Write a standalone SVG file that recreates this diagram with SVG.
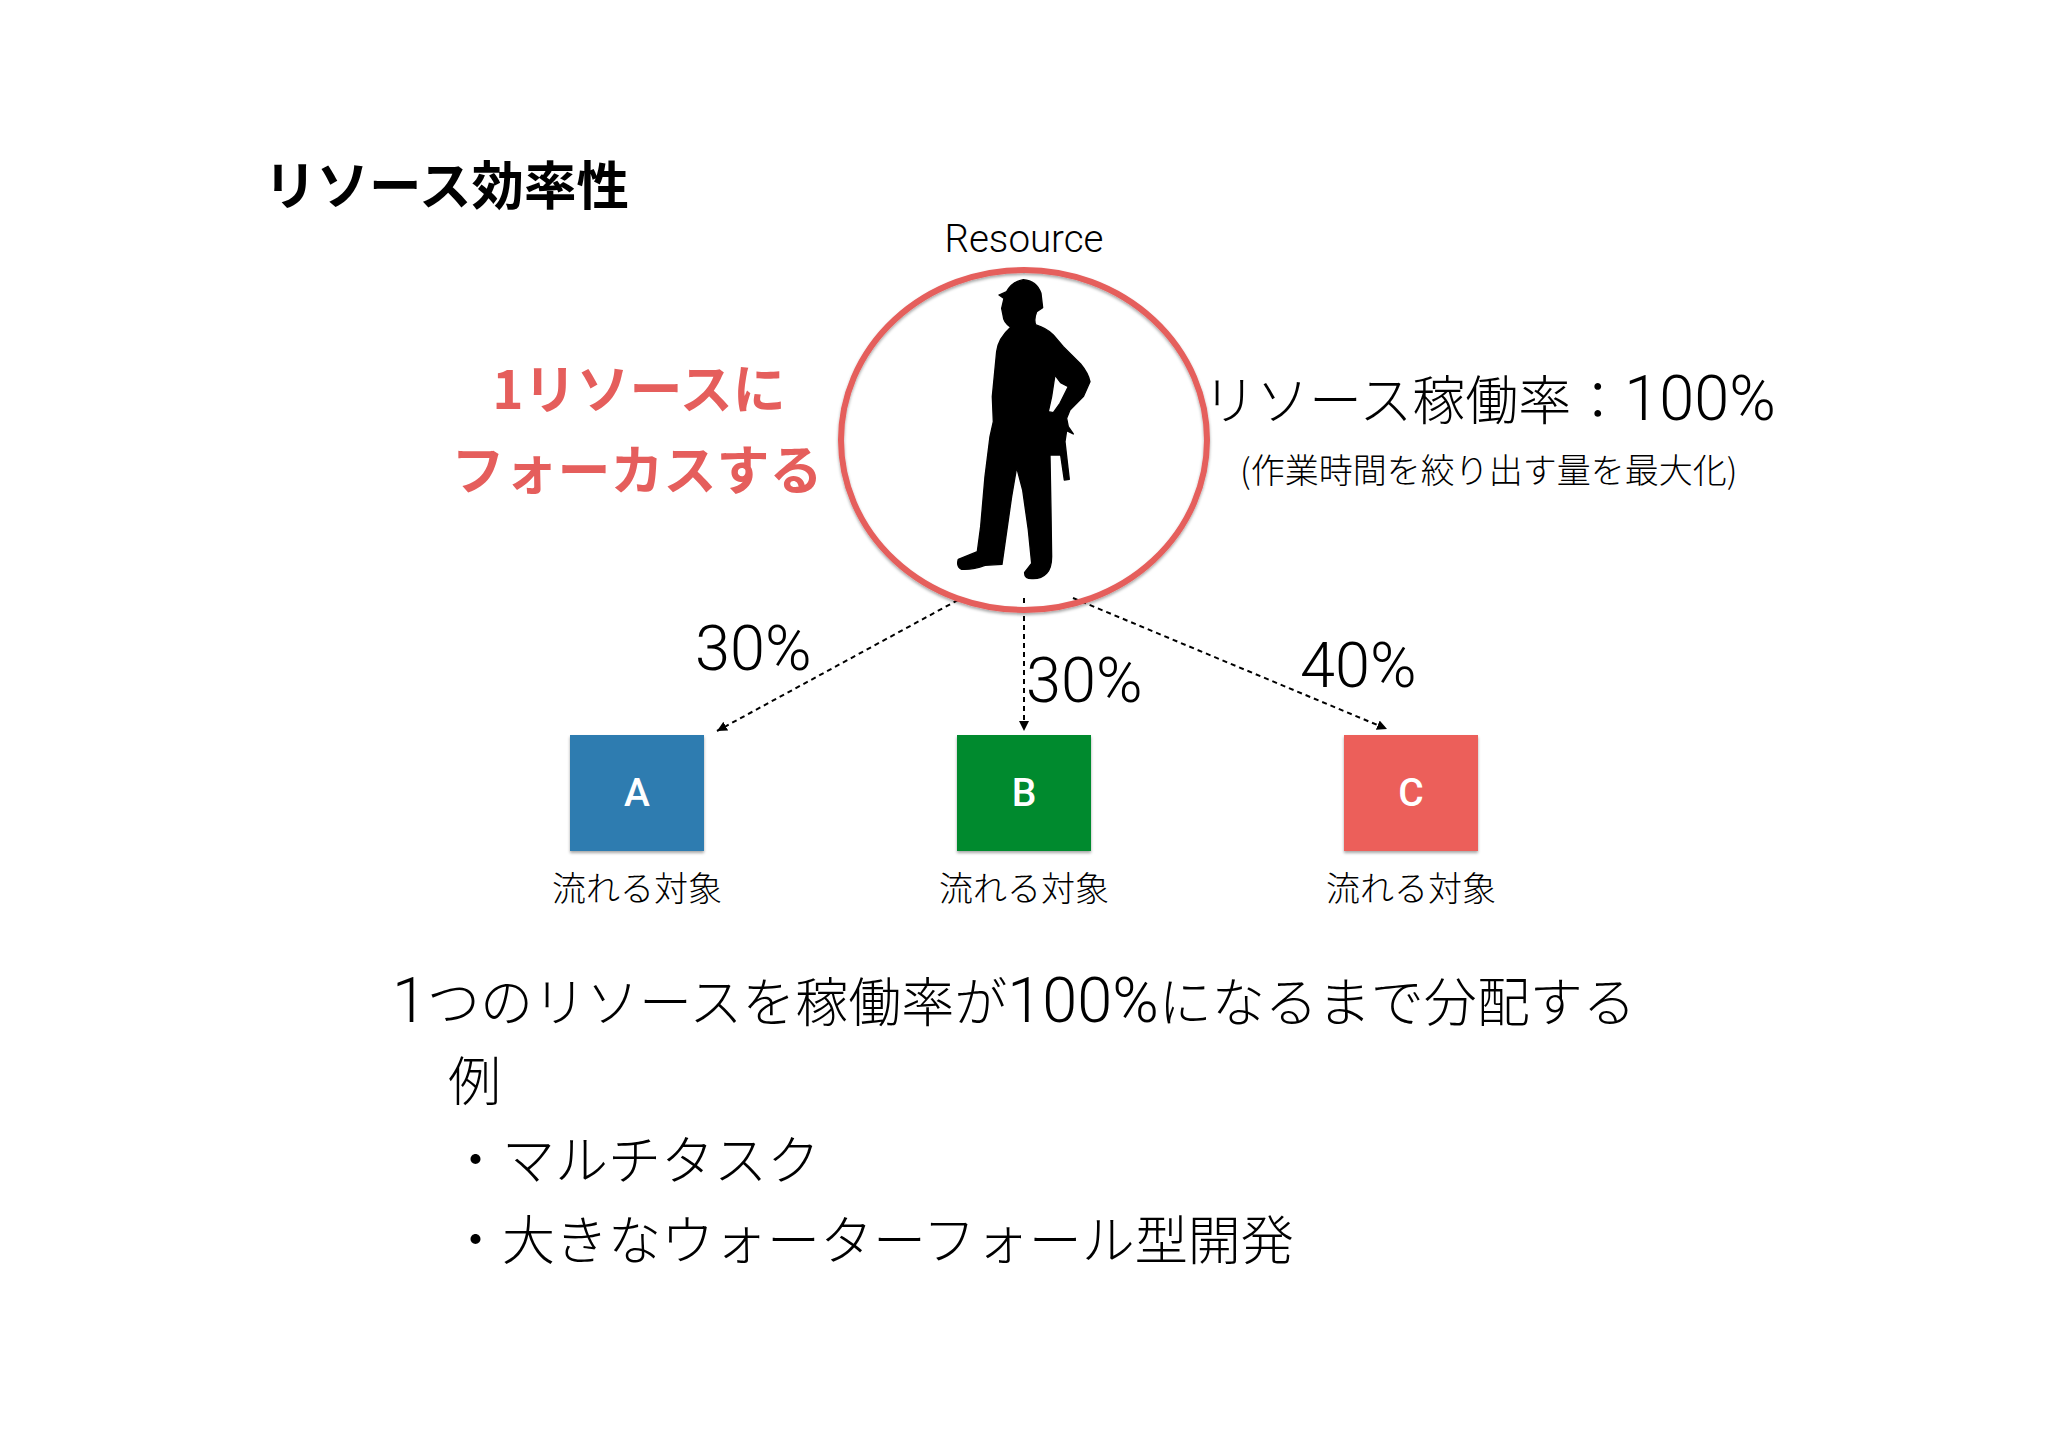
<svg xmlns="http://www.w3.org/2000/svg" width="2048" height="1447" viewBox="0 0 2048 1447">
<style>
text{font-family:"Noto Sans CJK JP","Noto Sans",sans-serif;fill:#000;font-weight:300}
.lat{font-family:Roboto,"Liberation Sans",sans-serif;font-weight:300}
.b{font-weight:700}
.red{fill:#e55e5c;font-weight:700}
.m{text-anchor:middle}
.lbl{font-size:34px;text-anchor:middle}
.pct{font-size:63px}
.big{font-size:53px}
.num{font-family:Roboto,"Liberation Sans",sans-serif;font-weight:300;font-size:63px}
.box{font-family:Roboto,"Liberation Sans",sans-serif;font-size:39px;fill:#fff;text-anchor:middle;font-weight:500}
.conn{fill:none;stroke:#000;stroke-width:2;stroke-dasharray:5 4;marker-end:url(#ah)}
</style>
<defs>
<marker id="ah" markerUnits="userSpaceOnUse" markerWidth="12" markerHeight="12" refX="10" refY="5" orient="auto"><path d="M0 0L10 5L0 10Z" fill="#000"/></marker>
<filter id="sh" x="-10%" y="-10%" width="120%" height="120%"><feDropShadow dx="0" dy="2" stdDeviation="1.5" flood-color="#000" flood-opacity=".35"/></filter>
</defs>
<rect width="2048" height="1447" fill="#fff"/>
<text id="title" class="b" x="264" y="205" font-size="52.5">リソース効率性</text>
<g id="connectors">
<path class="conn" d="M958 600L717 731"/>
<path class="conn" d="M1024 598V731"/>
<path class="conn" d="M1073 598L1387 729"/>
</g>
<g id="resource">
<text class="lat m" x="1024" y="252" font-size="38.5">Resource</text>
<ellipse cx="1024" cy="440" rx="183" ry="170" fill="none" stroke="#e55e5c" stroke-width="6" filter="url(#sh)"/>
<path transform="translate(820 210) scale(.3333)" fill-rule="evenodd" stroke="#000" stroke-width="4" stroke-linejoin="round" d="M610 209Q650 212 663 250L668 293L650 305Q640 330 648 345Q680 355 700 375L730 410L782 462Q805 490 810 515L790 560L750 600L740 625L745 650L760 672L740 662L735 695L748 808L733 810L722 735L690 735L693 900L695 1040Q695 1075 680 1090Q665 1106 640 1106Q612 1108 614 1087L635 1060L625 960L608 840L590 772L575 860L555 1000L546 1063L495 1066Q460 1080 425 1078Q408 1070 415 1048L472 1025L482 950L495 800L510 680L520 635L517 560L530 425Q535 385 572 352Q550 335 550 320L545 295L552 265L537 255L560 245Q575 215 610 209ZM705 495L722 518L745 530L720 580L700 608L685 605L695 560Z"/>
</g>
<g id="focus"><text class="red m" x="639" y="409" font-size="53">1リソースに</text>
<text class="red m" x="637" y="490" font-size="53">フォーカスする</text></g>
<g id="rate"><text x="1203" y="420" font-size="53">リソース稼働率：<tspan class="num">100%</tspan></text>
<text x="1240" y="483" font-size="34">(作業時間を絞り出す量を最大化)</text></g>
<text class="lat pct" x="695" y="670">30%</text>
<text class="lat pct" x="1026" y="702">30%</text>
<text class="lat pct" x="1300" y="687">40%</text>
<g id="a"><rect x="570" y="735" width="134" height="116" fill="#2e7bb0" filter="url(#sh)"/><text class="box" x="637" y="806">A</text><text class="lbl" x="637" y="901">流れる対象</text></g>
<g id="b"><rect x="957" y="735" width="134" height="116" fill="#058a2e" filter="url(#sh)"/><text class="box" x="1024" y="806">B</text><text class="lbl" x="1024" y="901">流れる対象</text></g>
<g id="c"><rect x="1344" y="735" width="134" height="116" fill="#ec5f5a" filter="url(#sh)"/><text class="box" x="1411" y="806">C</text><text class="lbl" x="1411" y="901">流れる対象</text></g>
<g id="body">
<text class="big" x="392" y="1022"><tspan class="num">1</tspan>つのリソースを稼働率が<tspan class="num">100%</tspan>になるまで分配する</text>
<text class="big" x="448" y="1101">例</text>
<text class="big" x="449" y="1180">・マルチタスク</text>
<text class="big" x="449" y="1260">・大きなウォーターフォール型開発</text>
</g>
</svg>
